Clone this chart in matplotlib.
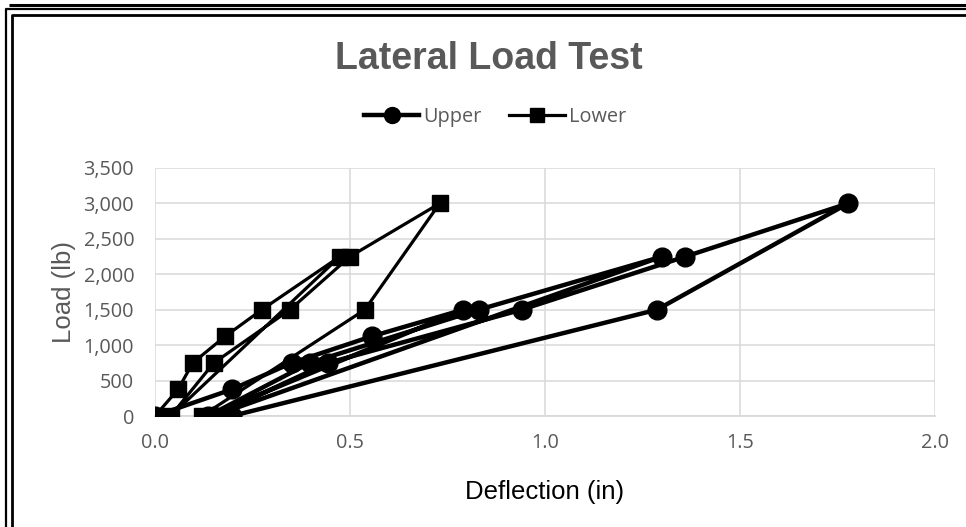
#!/usr/bin/env python3
"""Lateral load test: load vs deflection for upper and lower gauges."""

import matplotlib
matplotlib.use('Agg')
import matplotlib.pyplot as plt
from matplotlib.lines import Line2D
from matplotlib.ticker import FuncFormatter, MultipleLocator

# Upper gauge readings (in order of the test sequence)
upper_defl = [0.00, 0.197, 0.351, 0.556, 0.790, 0.136, 0.397, 0.830, 1.300,
              0.150, 0.444, 0.940, 1.360, 1.777, 1.287, 0.197]
upper_load = [0, 375, 750, 1125, 1500, 0, 750, 1500, 2250,
              0, 750, 1500, 2250, 3000, 1500, 0]

# Lower gauge readings
lower_defl = [0.00, 0.059, 0.097, 0.180, 0.274, 0.474, 0.040, 0.151, 0.346,
              0.500, 0.730, 0.538, 0.120]
lower_load = [0, 375, 750, 1125, 1500, 2250, 0, 750, 1500,
              2250, 3000, 1500, 0]

W, H = 966, 527
GRAY = '#595959'
GRID = '#d9d9d9'

fig = plt.figure(figsize=(W / 100, H / 100), dpi=100)
ax = fig.add_axes([155 / W, 1 - 416 / H, 780 / W, 248 / H])

ax.plot(upper_defl, upper_load, color='black', linewidth=3.2, marker='o',
        markersize=13.5, label='Upper', zorder=3)
ax.plot(lower_defl, lower_load, color='black', linewidth=2.3, marker='s',
        markersize=11.5, label='Lower', zorder=3)

ax.set_xlim(0, 2.0)
ax.set_ylim(0, 3500)
ax.xaxis.set_major_locator(MultipleLocator(0.5))
ax.yaxis.set_major_locator(MultipleLocator(500))
ax.xaxis.set_major_formatter(FuncFormatter(lambda v, p: f'{v:.1f}'))
ax.yaxis.set_major_formatter(FuncFormatter(lambda v, p: f'{v:,.0f}'))
ax.grid(color=GRID, linewidth=1.1)
ax.set_axisbelow(True)
for side in ['top', 'right', 'left']:
    ax.spines[side].set_visible(False)
ax.spines['bottom'].set_color(GRID)
ax.spines['bottom'].set_linewidth(1.3)
ax.tick_params(length=0, labelsize=14.3, labelcolor=GRAY)
ax.tick_params(axis='y', pad=15)
ax.tick_params(axis='x', pad=12)
for lbl in ax.get_xticklabels() + ax.get_yticklabels():
    lbl.set_family('Open Sans')

ax.set_xlabel('Deflection (in)', fontsize=18.5, family='Liberation Sans',
              color='black')
ax.xaxis.set_label_coords(0.5, -0.26)
ax.set_ylabel('Load (lb)', fontsize=18.5, family='Liberation Sans', color=GRAY)
ax.yaxis.set_label_coords(-0.101, 0.5)

fig.text(489 / W, 1 - 59 / H, 'Lateral Load Test', ha='center', va='center',
         fontsize=27, fontweight='bold', family='Liberation Sans', color=GRAY)

leg = fig.legend(loc='center', bbox_to_anchor=(495 / W, 1 - 117 / H), ncol=2,
                 frameon=False, prop={'family': 'Open Sans', 'size': 14.3},
                 handlelength=2.8, handletextpad=0.2, columnspacing=1.4,
                 markerscale=0.85)
for t in leg.get_texts():
    t.set_color(GRAY)

# screenshot frame lines (pixel coords)
def frame_line(xs, ys, lw):
    fig.add_artist(Line2D([x / W for x in xs], [1 - y / H for y in ys],
                          transform=fig.transFigure, color='black',
                          linewidth=lw, solid_capstyle='butt'))

frame_line([9, W], [4.5, 4.5], 2.2)
frame_line([6, 6, W], [H, 9, 9], 1.6)
frame_line([12, 12, W], [H, 14.5, 14.5], 2.0)

plt.savefig('out.png', dpi=100)
plt.close()
